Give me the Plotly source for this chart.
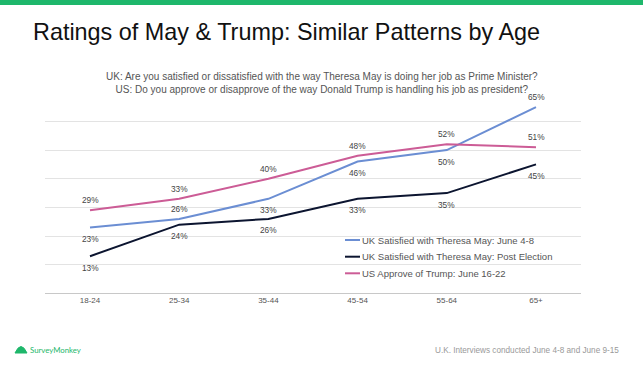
import plotly.graph_objects as go

categories = ["18-24", "25-34", "35-44", "45-54", "55-64", "65+"]
uk_june = [23, 26, 33, 46, 50, 65]
uk_post = [13, 24, 26, 33, 35, 45]
us_trump = [29, 33, 40, 48, 52, 51]

series_names = [
    "UK Satisfied with Theresa May: June 4-8",
    "UK Satisfied with Theresa May: Post Election",
    "US Approve of Trump: June 16-22",
]
colors = ["#6B8ED3", "#0C1530", "#CC5C96"]

# label placement: 1 = above the point, -1 = below
uk_june_pos = [-1, 1, -1, -1, -1, 1]
uk_post_pos = [-1, -1, -1, -1, -1, -1]
us_pos = [1, 1, 1, 1, 1, 1]

W, H = 643, 365
FONT = "Liberation Sans, Arial, sans-serif"

fig = go.Figure()
annotations = []
for vals, pos, name, col in [
    (uk_june, uk_june_pos, series_names[0], colors[0]),
    (uk_post, uk_post_pos, series_names[1], colors[1]),
    (us_trump, us_pos, series_names[2], colors[2]),
]:
    fig.add_trace(go.Scatter(
        x=categories, y=vals, name=name, mode="lines",
        line=dict(color=col, width=2),
        showlegend=False, cliponaxis=False,
    ))
    for c, v, p in zip(categories, vals, pos):
        annotations.append(dict(
            x=c, y=v, xref="x", yref="y", text=f"{v}%", showarrow=False,
            xanchor="center", yanchor="middle", yshift=10 if p > 0 else -11.5,
            font=dict(size=8.3, color="#444", family=FONT)))

x0, x1 = 45.4, 580.6
y_top, y_bot = 92.7, 293.5
fig.update_layout(
    width=W, height=H,
    margin=dict(l=0, r=0, t=0, b=0),
    paper_bgcolor="white", plot_bgcolor="white",
    font=dict(family=FONT),
    xaxis=dict(domain=[x0 / W, x1 / W], range=[-0.5, 5.5], type="category",
               showgrid=False, showline=False, zeroline=False, ticks="",
               tickfont=dict(size=8, color="#555"), fixedrange=True),
    yaxis=dict(domain=[(H - y_bot) / H, (H - y_top) / H], range=[0, 70], dtick=10,
               showgrid=True, gridcolor="#E3E3E3", gridwidth=1,
               zeroline=True, zerolinecolor="#C8C8C8", zerolinewidth=1,
               showticklabels=False, ticks="", showline=False, fixedrange=True),
    showlegend=False,
)

shapes = [
    dict(type="rect", xref="paper", yref="paper", x0=0, x1=1,
         y0=(H - 5) / H, y1=1, fillcolor="#1EB76B", line=dict(width=0)),
]
annotations += [
    dict(text="Ratings of May & Trump: Similar Patterns by Age", xref="paper", yref="paper",
         x=31 / W, y=(H - 32) / H, xanchor="left", yanchor="middle", showarrow=False,
         font=dict(size=23.4, color="#111", family=FONT)),
    dict(text="UK: Are you satisfied or dissatisfied with the way Theresa May is doing her job as Prime Minister?<br>"
              "US: Do you approve or disapprove of the way Donald Trump is handling his job as president?",
         xref="paper", yref="paper", x=322 / W, y=(H - 83) / H, xanchor="center", yanchor="middle",
         showarrow=False, align="center",
         font=dict(size=10, color="#555", family=FONT)),
    dict(text="U.K. Interviews conducted June 4-8 and June 9-15", xref="paper", yref="paper",
         x=621 / W, y=(H - 350) / H, xanchor="right", yanchor="middle", showarrow=False,
         font=dict(size=8.2, color="#999", family=FONT)),
    dict(text="SurveyMonkey", xref="paper", yref="paper",
         x=28 / W, y=(H - 350) / H, xanchor="left", yanchor="middle", showarrow=False,
         font=dict(size=7.8, color="#1EB76B", family="Lato, sans-serif")),
]
# logo icon (small arch)
shapes.append(dict(type="path", xref="paper", yref="paper",
                   path=f"M {15/W} {(H-353)/H} Q {21/W} {(H-340)/H} {27/W} {(H-353)/H} Z",
                   fillcolor="#1EB76B", line=dict(color="#1EB76B", width=1)))

# manual legend
leg_y = [240, 256.7, 273.3]
for name, col, ly in zip(series_names, colors, leg_y):
    shapes.append(dict(type="line", xref="paper", yref="paper",
                       x0=345 / W, x1=360 / W, y0=(H - ly) / H, y1=(H - ly) / H,
                       line=dict(color=col, width=2)))
    annotations.append(dict(text=name, xref="paper", yref="paper",
                            x=360 / W, y=(H - ly) / H, xanchor="left", yanchor="middle",
                            showarrow=False, font=dict(size=9.5, color="#555", family=FONT)))

fig.update_layout(shapes=shapes, annotations=annotations)
fig.write_html("out.html", config={"displayModeBar": False},
               post_script="document.body.style.margin='0';")
